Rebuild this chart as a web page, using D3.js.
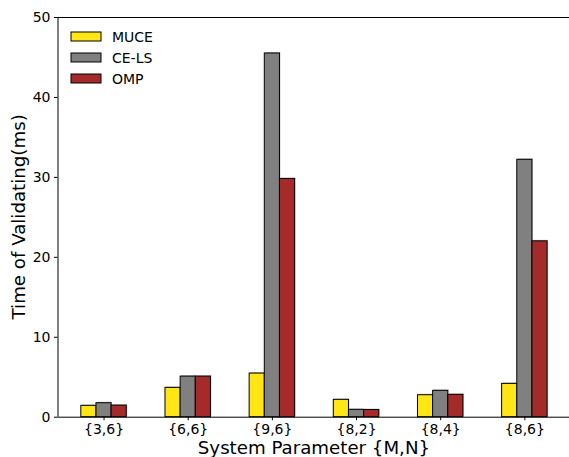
<!DOCTYPE html>
<html>
<head>
<meta charset="utf-8">
<script src="https://cdn.jsdelivr.net/npm/d3@7"></script>
<style>
  body { margin: 0; background: #fff; }
  svg { display: block; font-family: "DejaVu Sans", sans-serif; }
</style>
</head>
<body>
<svg id="chart" width="569" height="457"></svg>
<script>
const categories = ["{3,6}", "{6,6}", "{9,6}", "{8,2}", "{8,4}", "{8,6}"];
const seriesNames = ["MUCE", "CE-LS", "OMP"];
const muce = [1.42, 3.67, 5.46, 2.17, 2.75, 4.17];
const cels = [1.75, 5.08, 45.5, 0.92, 3.3, 32.2];
const omp = [1.45, 5.08, 29.8, 0.9, 2.8, 22.0];
const colors = ["#FFE614", "#808080", "#A52A2A"];
const yTicks = [0, 10, 20, 30, 40, 50];

const series = [muce, cels, omp];
const svg = d3.select("#chart");

const mLeft = 57.5, mRight = 570.4, mTop = 17, mBottom = 416.7;
const barW = 0.18;

const x = d3.scaleLinear().domain([-0.547, 5.547]).range([mLeft, mRight]);
const y = d3.scaleLinear().domain([0, 50]).range([mBottom, mTop]);

// bars
series.forEach((vals, s) => {
  const g = svg.append("g");
  // faint shadow
  g.selectAll("rect.shadow")
    .data(vals)
    .enter()
    .append("rect")
    .attr("class", "shadow")
    .attr("x", (d, i) => x(i + (s - 1) * barW - barW / 2) + 1)
    .attr("y", (d) => y(d) - 1)
    .attr("width", x(barW) - x(0))
    .attr("height", (d) => y(0) - y(d))
    .attr("fill", "#c8c8c8");
  g.selectAll("rect.bar")
    .data(vals)
    .enter()
    .append("rect")
    .attr("class", "bar")
    .attr("x", (d, i) => x(i + (s - 1) * barW - barW / 2))
    .attr("y", (d) => y(d))
    .attr("width", x(barW) - x(0))
    .attr("height", (d) => y(0) - y(d))
    .attr("fill", colors[s])
    .attr("stroke", "#000")
    .attr("stroke-width", 1);
});

// axes
const yAxis = svg.append("g")
  .attr("transform", "translate(" + mLeft + ",0)")
  .call(d3.axisLeft(y).tickValues(yTicks).tickSize(3.5).tickPadding(3.5));
const xAxis = svg.append("g")
  .attr("transform", "translate(0," + mBottom + ")")
  .call(d3.axisBottom(x).tickValues(d3.range(categories.length))
    .tickFormat((d) => categories[d]).tickSize(3.5).tickPadding(3.5));
[yAxis, xAxis].forEach((a) => {
  a.selectAll("text").attr("font-size", 14).attr("fill", "#000")
    .attr("font-family", "DejaVu Sans, sans-serif");
  a.selectAll("line").attr("stroke", "#000");
  a.select(".domain").attr("stroke", "#000");
});
xAxis.select(".domain").attr("d", "M" + mLeft + ",0.5H" + mRight);
yAxis.select(".domain").attr("d", "M0.5," + mTop + "V" + mBottom);

// top spine
svg.append("line")
  .attr("x1", mLeft).attr("x2", mRight)
  .attr("y1", mTop + 0.5).attr("y2", mTop + 0.5)
  .attr("stroke", "#000");

// axis labels
svg.append("text")
  .attr("x", (mLeft + mRight) / 2)
  .attr("y", 453.5)
  .attr("text-anchor", "middle")
  .attr("font-size", 18.2)
  .text("System Parameter {M,N}");
svg.append("text")
  .attr("transform", "translate(25," + (mTop + mBottom) / 2 + ") rotate(-90)")
  .attr("text-anchor", "middle")
  .attr("font-size", 18.2)
  .text("Time of Validating(ms)");

// legend
const legend = svg.append("g");
seriesNames.forEach((name, i) => {
  const cy = 36.5 + i * 21;
  legend.append("rect")
    .attr("x", 71).attr("y", cy - 4.5)
    .attr("width", 30).attr("height", 9)
    .attr("fill", colors[i]).attr("stroke", "#000").attr("stroke-width", 1);
  legend.append("text")
    .attr("x", 112).attr("y", cy + 5)
    .attr("font-size", 14)
    .text(name);
});
</script>
</body>
</html>
